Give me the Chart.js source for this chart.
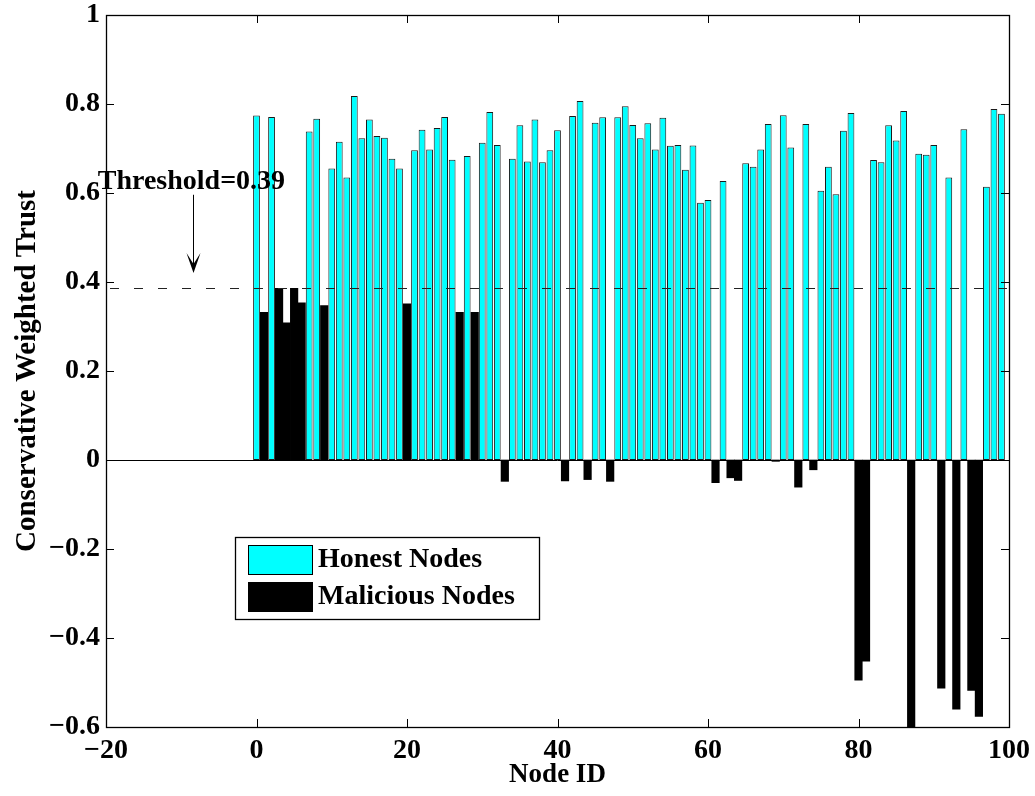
<!DOCTYPE html>
<html>
<head>
<meta charset="utf-8">
<script src="https://cdn.jsdelivr.net/npm/chart.js@4/dist/chart.umd.min.js"></script>
<style>
  html, body { margin: 0; padding: 0; background: #ffffff; }
  #wrap { width: 1035px; height: 796px; }
</style>
</head>
<body>
<div id="wrap"><canvas id="c" width="1035" height="796"></canvas></div>
<script>
// ---- Data ----
const honestNodes = [0, 2, 7, 8, 10, 11, 12, 13, 14, 15, 16, 17, 18, 19, 21, 22, 23, 24, 25, 26, 28, 30, 31, 32, 34, 35, 36, 37, 38, 39, 40, 42, 43, 45, 46, 48, 49, 50, 51, 52, 53, 54, 55, 56, 57, 58, 59, 60, 62, 65, 66, 67, 68, 70, 71, 73, 75, 76, 77, 78, 79, 82, 83, 84, 85, 86, 88, 89, 90, 92, 94, 97, 98, 99];
const honestTrust = [0.774, 0.771, 0.738, 0.767, 0.655, 0.715, 0.635, 0.818, 0.723, 0.765, 0.728, 0.724, 0.677, 0.655, 0.696, 0.742, 0.698, 0.746, 0.771, 0.675, 0.683, 0.713, 0.782, 0.708, 0.677, 0.752, 0.671, 0.765, 0.669, 0.696, 0.741, 0.773, 0.807, 0.758, 0.770, 0.770, 0.795, 0.753, 0.723, 0.757, 0.698, 0.769, 0.706, 0.708, 0.652, 0.707, 0.578, 0.584, 0.627, 0.667, 0.659, 0.698, 0.755, 0.775, 0.702, 0.755, 0.605, 0.659, 0.597, 0.740, 0.780, 0.674, 0.669, 0.752, 0.718, 0.784, 0.688, 0.686, 0.708, 0.635, 0.743, 0.614, 0.789, 0.778];

const maliciousNodes = [1, 3, 4, 5, 6, 9, 20, 27, 29, 33, 41, 44, 47, 61, 63, 64, 69, 72, 74, 80, 81, 87, 91, 93, 95, 96];
const maliciousTrust = [0.332, 0.386, 0.308, 0.386, 0.353, 0.347, 0.351, 0.332, 0.332, -0.048, -0.047, -0.044, -0.048, -0.051, -0.040, -0.046, -0.003, -0.061, -0.022, -0.495, -0.452, -0.62, -0.513, -0.560, -0.518, -0.576];

const seriesLabels = ["Honest Nodes", "Malicious Nodes"];
const thresholdValue = 0.386;
const thresholdText = "Threshold=0.39";
const xTitle = "Node ID";
const yTitle = "Conservative Weighted Trust";

const xMin = -20, xMax = 100, xStep = 20;
const yMin = -0.6, yMax = 1, yStep = 0.2;

const FONT = "'Liberation Serif', 'Times New Roman', serif";

function toPoints(xs, ys) { return xs.map((x, i) => ({ x: x, y: ys[i] })); }
function minusSign(s) { return s.replace('-', '\u2212'); }

const overlayPlugin = {
  id: 'matlabOverlay',
  afterDatasetsDraw(chart) {
    const ctx = chart.ctx;
    const ca = chart.chartArea;
    const xs = chart.scales.x, ys = chart.scales.y;
    ctx.save();

    // zero baseline
    const y0 = Math.round(ys.getPixelForValue(0)) + 0.5;
    ctx.strokeStyle = '#000';
    ctx.lineWidth = 1;
    ctx.setLineDash([]);
    ctx.beginPath();
    ctx.moveTo(ca.left, y0);
    ctx.lineTo(ca.right, y0);
    ctx.stroke();

    // threshold dashed line
    const yt = Math.round(ys.getPixelForValue(thresholdValue)) + 0.5;
    ctx.strokeStyle = '#222';
    ctx.setLineDash([9, 15]);
    ctx.beginPath();
    ctx.moveTo(xs.getPixelForValue(xMin) + 4, yt);
    ctx.lineTo(xs.getPixelForValue(xMax), yt);
    ctx.stroke();
    ctx.setLineDash([]);

    // axis box
    ctx.strokeStyle = '#000';
    ctx.lineWidth = 1.3;
    ctx.strokeRect(Math.round(ca.left) + 0.5, Math.round(ca.top) + 0.5,
                   Math.round(ca.right - ca.left), Math.round(ca.bottom - ca.top));

    // inner ticks on all four sides
    ctx.lineWidth = 1;
    const tl = 8;
    ys.ticks.forEach(t => {
      const py = Math.round(ys.getPixelForValue(t.value)) + 0.5;
      ctx.beginPath();
      ctx.moveTo(ca.left, py); ctx.lineTo(ca.left + tl, py);
      ctx.moveTo(ca.right, py); ctx.lineTo(ca.right - tl, py);
      ctx.stroke();
    });
    xs.ticks.forEach(t => {
      const px = Math.round(xs.getPixelForValue(t.value)) + 0.5;
      ctx.beginPath();
      ctx.moveTo(px, ca.bottom); ctx.lineTo(px, ca.bottom - tl);
      ctx.moveTo(px, ca.top); ctx.lineTo(px, ca.top + tl);
      ctx.stroke();
    });

    // threshold annotation text + arrow
    ctx.fillStyle = '#000';
    ctx.font = "bold 28px " + FONT;
    ctx.textAlign = 'left';
    ctx.textBaseline = 'alphabetic';
    ctx.fillText(thresholdText, xs.getPixelForValue(-21.1), ys.getPixelForValue(0.609));

    const ax = Math.round(xs.getPixelForValue(-8.5)) + 0.5;
    const ayTop = ys.getPixelForValue(0.596);
    const ayTip = ys.getPixelForValue(0.420);
    ctx.strokeStyle = '#000';
    ctx.lineWidth = 1;
    ctx.beginPath();
    ctx.moveTo(ax, ayTop); ctx.lineTo(ax, ayTip - 4);
    ctx.stroke();
    ctx.beginPath();
    ctx.moveTo(ax, ayTip);
    ctx.lineTo(ax - 7, ayTip - 20);
    ctx.lineTo(ax, ayTip - 9);
    ctx.lineTo(ax + 7, ayTip - 20);
    ctx.closePath();
    ctx.fill();

    // legend
    const lx = 235, ly = 537, lw = 304, lh = 82;
    ctx.fillStyle = '#fff';
    ctx.fillRect(lx, ly, lw, lh);
    ctx.strokeStyle = '#000';
    ctx.lineWidth = 1.3;
    ctx.strokeRect(lx + 0.5, ly + 0.5, lw, lh);
    const dsets = chart.data.datasets;
    const rows = [545, 582];
    dsets.forEach((ds, i) => {
      ctx.fillStyle = ds.backgroundColor;
      ctx.fillRect(248, rows[i], 64, 29);
      ctx.strokeStyle = '#000';
      ctx.lineWidth = 1;
      ctx.strokeRect(248.5, rows[i] + 0.5, 64, 29);
      ctx.fillStyle = '#000';
      ctx.font = "bold 28px " + FONT;
      ctx.textAlign = 'left';
      ctx.textBaseline = 'middle';
      ctx.fillText(ds.label, 318, rows[i] + 15);
    });

    ctx.restore();
  }
};

new Chart(document.getElementById('c'), {
  type: 'bar',
  data: {
    datasets: [
      {
        label: seriesLabels[0],
        data: toPoints(honestNodes, honestTrust),
        backgroundColor: '#00FFFF',
        borderColor: '#1a1a1a',
        borderWidth: 1,
        borderSkipped: false,
        grouped: false,
        barPercentage: 0.9,
        categoryPercentage: 1.0
      },
      {
        label: seriesLabels[1],
        data: toPoints(maliciousNodes, maliciousTrust),
        backgroundColor: '#000000',
        borderColor: '#000000',
        borderWidth: 0,
        grouped: false,
        barPercentage: 1.0,
        categoryPercentage: 1.0
      }
    ]
  },
  options: {
    responsive: false,
    animation: false,
    events: [],
    layout: { padding: { top: 15, right: 26, left: 0, bottom: 0 } },
    plugins: {
      legend: { display: false },
      tooltip: { enabled: false },
      title: { display: false }
    },
    scales: {
      x: {
        type: 'linear',
        min: xMin, max: xMax,
        offset: false,
        grid: { display: false, drawTicks: false },
        border: { display: false },
        ticks: {
          stepSize: xStep,
          padding: 7,
          color: '#000',
          font: { family: FONT, size: 28, weight: 'bold' },
          maxRotation: 0,
          callback: v => minusSign(String(v))
        },
        title: {
          display: true, text: xTitle, color: '#000',
          font: { family: FONT, size: 27, weight: 'bold' },
          padding: { top: 0, bottom: 5 }
        },
        afterFit: s => { s.height = 69; s.paddingLeft = 0; s.paddingRight = 0; }
      },
      y: {
        type: 'linear',
        min: yMin, max: yMax,
        grid: { display: false, drawTicks: false },
        border: { display: false },
        ticks: {
          stepSize: yStep,
          padding: 6,
          color: '#000',
          font: { family: FONT, size: 28, weight: 'bold' },
          callback: v => {
            const r = Math.round(v * 10) / 10;
            return minusSign(r === 0 ? '0' : (r === 1 ? '1' : r.toFixed(1)));
          }
        },
        title: {
          display: true, text: yTitle, color: '#000',
          font: { family: FONT, size: 29, weight: 'bold' },
          padding: { top: 10, bottom: 0 }
        },
        afterFit: s => { s.width = 106; s.paddingTop = 0; s.paddingBottom = 0; }
      }
    }
  },
  plugins: [overlayPlugin]
});
</script>
</body>
</html>
